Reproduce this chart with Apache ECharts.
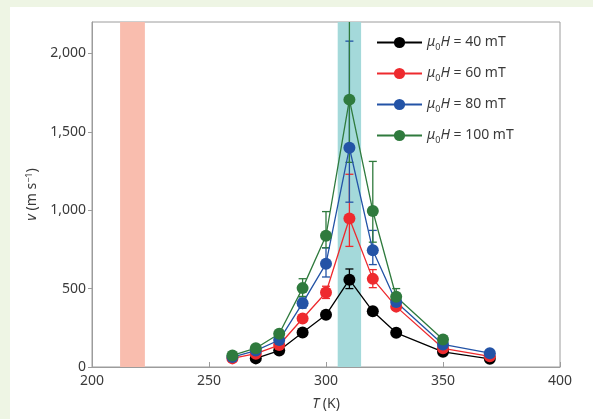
<!DOCTYPE html>
<html>
<head>
<meta charset="utf-8">
<script src="https://cdn.jsdelivr.net/npm/echarts@6/dist/echarts.min.js"></script>
<style>
  html, body { margin: 0; padding: 0; background: #eef5e4; }
  #chart { position: absolute; left: 10px; top: 7px; width: 583px; height: 412px; background: #fff; }
</style>
</head>
<body>
<div id="chart"></div>
<script>
// temperatures (K)
const temps = [260, 270, 280, 290, 300, 310, 320, 330, 350, 370]
// velocity (m/s) for each field
const v40 = [null, 55, 105, 220, 333, 557, 355, 218, 97, 52]
const v60 = [55, 85, 140, 309, 475, 947, 562, 385, 119, 68]
const v80 = [63, 105, 172, 407, 659, 1398, 744, 415, 144, 88]
const v100 = [74, 120, 212, 503, 837, 1705, 995, 448, 175, null]
// error bar ends
const v40Lo = [null, null, null, null, null, 500, null, null, null, null]
const v40Hi = [null, null, null, null, null, 625, null, null, null, null]
const v60Lo = [null, null, null, null, 437, 769, 506, null, null, null]
const v60Hi = [null, null, null, null, 515, 1229, 621, null, null, null]
const v80Lo = [null, null, null, 375, 574, 1051, 653, null, null, null]
const v80Hi = [null, null, null, 440, 760, 2078, 871, null, null, null]
const v100Lo = [null, null, null, 450, 760, 1305, 796, 400, null, null]
const v100Hi = [null, null, null, 563, 991, 2300, 1311, 500, null, null]
// shaded temperature bands
const bandPink = [212, 222.6]
const bandTeal = [305, 315]
const xTicks = [200, 250, 300, 350, 400]
const yTicks = [0, 500, 1000, 1500, 2000]

const fields = ['40', '60', '80', '100']
const colors = ['#000000', '#ee2a2e', '#2353a6', '#2f7a3d']
const values = [v40, v60, v80, v100]
const lows = [v40Lo, v60Lo, v80Lo, v100Lo]
const highs = [v40Hi, v60Hi, v80Hi, v100Hi]

const font = 'Noto Sans'
const textColor = '#3a3a3a'
const frameColor = '#9c9c9c'

const renderErr = (params, api) => {
  const x = api.value(0)
  const top = api.coord([x, api.value(2)])
  const bot = api.coord([x, api.value(1)])
  const w = 4
  const style = { stroke: api.visual('color'), lineWidth: 1.3 }
  return {
    type: 'group',
    children: [
      { type: 'line', shape: { x1: top[0], y1: top[1], x2: bot[0], y2: bot[1] }, style },
      { type: 'line', shape: { x1: top[0] - w, y1: top[1], x2: top[0] + w, y2: top[1] }, style },
      { type: 'line', shape: { x1: bot[0] - w, y1: bot[1], x2: bot[0] + w, y2: bot[1] }, style }
    ]
  }
}

const series = [
  {
    name: 'bands',
    type: 'line',
    data: [],
    silent: true,
    z: 0,
    markArea: {
      silent: true,
      itemStyle: { opacity: 1 },
      data: [
        [{ xAxis: bandPink[0], itemStyle: { color: '#f9bdae' } }, { xAxis: bandPink[1] }],
        [{ xAxis: bandTeal[0], itemStyle: { color: '#a4d9da' } }, { xAxis: bandTeal[1] }]
      ]
    }
  }
]

fields.forEach((f, k) => {
  const errData = []
  temps.forEach((t, i) => {
    if (lows[k][i] != null) errData.push([t, lows[k][i], highs[k][i]])
  })
  series.push({
    name: 'err' + f,
    type: 'custom',
    renderItem: renderErr,
    clip: true,
    silent: true,
    z: 1,
    itemStyle: { color: colors[k] },
    encode: { x: 0, y: [1, 2] },
    data: errData
  })
})

fields.forEach((f, k) => {
  series.push({
    name: f,
    type: 'line',
    z: 2,
    data: temps.map((t, i) => [t, values[k][i]]),
    connectNulls: false,
    symbol: 'circle',
    symbolSize: 12,
    color: colors[k],
    lineStyle: { width: 1.3, color: colors[k] },
    itemStyle: { color: colors[k] }
  })
})

const option = {
  animation: false,
  textStyle: { fontFamily: font },
  grid: {
    left: 82,
    top: 15,
    right: 33,
    bottom: 52,
    show: true,
    borderColor: frameColor,
    borderWidth: 1
  },
  legend: {
    data: fields,
    orient: 'vertical',
    left: 361,
    top: 21,
    itemWidth: 45,
    itemHeight: 14,
    itemGap: 12,
    selectedMode: false,
    formatter: (name) => '{i|μ}{s|0}{i|H} = ' + name + ' mT',
    textStyle: {
      fontFamily: font,
      fontSize: 14,
      color: textColor,
      lineHeight: 19,
      rich: {
        i: { fontFamily: font, fontSize: 14, fontStyle: 'italic', color: textColor, lineHeight: 19 },
        s: { fontFamily: font, fontSize: 9, color: textColor, verticalAlign: 'bottom', lineHeight: 12 }
      }
    }
  },
  xAxis: {
    type: 'value',
    min: xTicks[0],
    max: xTicks[xTicks.length - 1],
    interval: 50,
    name: '{i|T} (K)',
    nameLocation: 'middle',
    nameGap: 30,
    nameTextStyle: {
      fontFamily: font,
      fontSize: 14,
      color: textColor,
      rich: { i: { fontFamily: font, fontSize: 14, fontStyle: 'italic', color: textColor } }
    },
    axisLine: { lineStyle: { color: frameColor, width: 1 } },
    axisTick: { inside: true, length: 5, lineStyle: { color: frameColor } },
    axisLabel: { fontSize: 14, color: textColor, margin: 7, fontFamily: font },
    splitLine: { show: false }
  },
  yAxis: {
    type: 'value',
    min: 0,
    max: 2200,
    name: '{i|v} (m s{p|−1})',
    nameLocation: 'middle',
    nameGap: 48,
    nameTextStyle: {
      fontFamily: font,
      fontSize: 14,
      color: textColor,
      rich: {
        i: { fontFamily: font, fontSize: 14, fontStyle: 'italic', color: textColor },
        p: { fontFamily: font, fontSize: 9, color: textColor, verticalAlign: 'top', lineHeight: 12 }
      }
    },
    axisLine: { show: true, lineStyle: { color: frameColor, width: 1 } },
    axisTick: { show: true, length: 4, customValues: yTicks, lineStyle: { color: frameColor } },
    axisLabel: { fontSize: 14, color: textColor, margin: 6, fontFamily: font, customValues: yTicks },
    splitLine: { show: false }
  },
  series
}

const chart = echarts.init(document.getElementById('chart'))
chart.setOption(option)
</script>
</body>
</html>
